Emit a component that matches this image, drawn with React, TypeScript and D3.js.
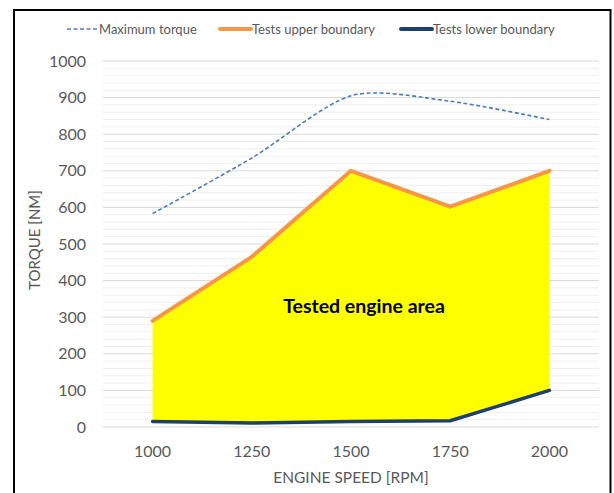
import React from "react";
import * as d3 from "d3";

const categories = [1000, 1250, 1500, 1750, 2000];
const maxTorque = [583, 735, 905, 890, 840];
const upperBoundary = [290, 465, 700, 602, 700];
const lowerBoundary = [15, 11, 15, 17, 100];
const yTicks = [0, 100, 200, 300, 400, 500, 600, 700, 800, 900, 1000];
const minorTicks = d3.range(0, 1001, 20);

const W = 614;
const H = 493;
const plot = { left: 103, right: 599, top: 61, bottom: 427 };
const FONT = "Lato, 'Open Sans', sans-serif";

export default function App() {
  const x = d3
    .scaleBand<number>()
    .domain(categories)
    .range([plot.left, plot.right]);
  const cx = (c: number) => (x(c) as number) + x.bandwidth() / 2;
  const y = d3.scaleLinear().domain([0, 1000]).range([plot.bottom, plot.top]);

  const area = d3
    .area<number>()
    .x((_, i) => cx(categories[i]))
    .y0((_, i) => y(lowerBoundary[i]))
    .y1((d) => y(d));
  const line = d3
    .line<number>()
    .x((_, i) => cx(categories[i]))
    .y((d) => y(d));
  const smooth = d3
    .line<number>()
    .x((_, i) => cx(categories[i]))
    .y((d) => y(d))
    .curve(d3.curveCardinal.tension(0.2));

  const legend = [
    { label: "Maximum torque", x: 67, color: "#4a7ebb", dash: "4 2.5", w: 1.6 },
    { label: "Tests upper boundary", x: 220, color: "#f79646", dash: null, w: 4 },
    { label: "Tests lower boundary", x: 401, color: "#1f3f6e", dash: null, w: 4 },
  ];

  return (
    <svg
      width={W}
      height={H}
      style={{ position: "absolute", left: 0, top: 0, background: "#fff" }}
    >
      <rect x={0} y={0} width={W} height={H} fill="#fff" />
      {/* frame */}
      <path d={`M14,${H + 5} L14,10 L610.5,10 L610.5,${H + 5}`} fill="none" stroke="#000" strokeWidth={2} />

      {/* minor grid */}
      {minorTicks
        .filter((t) => t % 100 !== 0)
        .map((t) => (
          <line key={"m" + t} x1={plot.left} x2={plot.right} y1={y(t)} y2={y(t)} stroke="#efefef" strokeWidth={1} />
        ))}
      {yTicks.map((t) => (
        <line key={"g" + t} x1={plot.left} x2={plot.right} y1={y(t)} y2={y(t)} stroke="#d9d9d9" strokeWidth={1} />
      ))}

      {/* area */}
      <path d={area(upperBoundary) || ""} fill="#ffff00" />
      <path d={line(upperBoundary) || ""} fill="none" stroke="#f79646" strokeWidth={4} strokeLinejoin="round" strokeLinecap="round" />
      <path d={line(lowerBoundary) || ""} fill="none" stroke="#1f3f6e" strokeWidth={3.5} strokeLinejoin="round" strokeLinecap="round" />
      <path d={smooth(maxTorque) || ""} fill="none" stroke="#4a7ebb" strokeWidth={1.6} strokeDasharray="4 2.5" />

      {/* y tick labels */}
      {yTicks.map((t) => (
        <text key={"yl" + t} x={86} y={y(t)} dy="0.35em" textAnchor="end" fontFamily={FONT} fontSize={16} fill="#595959">
          {t}
        </text>
      ))}
      {/* x tick labels */}
      {categories.map((c) => (
        <text key={"xl" + c} x={cx(c)} y={451} dy="0.35em" textAnchor="middle" fontFamily={FONT} fontSize={16} fill="#595959">
          {c}
        </text>
      ))}

      {/* axis titles */}
      <text x={351} y={478} dy="0.35em" textAnchor="middle" fontFamily={FONT} fontSize={15.5} fill="#595959">
        ENGINE SPEED [RPM]
      </text>
      <text
        transform={`translate(35,${y(500) - 4}) rotate(-90)`}
        dy="0.35em"
        textAnchor="middle"
        fontFamily={FONT}
        fontSize={15}
        fill="#595959"
      >
        TORQUE [NM]
      </text>

      {/* annotation */}
      <text x={364} y={306} dy="0.35em" textAnchor="middle" fontFamily={FONT} fontWeight="bold" fontSize={19.5} fill="#000">
        Tested engine area
      </text>

      {/* legend */}
      {legend.map((l) => (
        <g key={l.label}>
          <line x1={l.x} x2={l.x + 31} y1={29} y2={29} stroke={l.color} strokeWidth={l.w} strokeDasharray={l.dash || undefined} strokeLinecap={l.dash ? "butt" : "round"} />
          <text x={l.x + 32} y={29} dy="0.35em" fontFamily={FONT} fontSize={13} fill="#595959">
            {l.label}
          </text>
        </g>
      ))}
    </svg>
  );
}
